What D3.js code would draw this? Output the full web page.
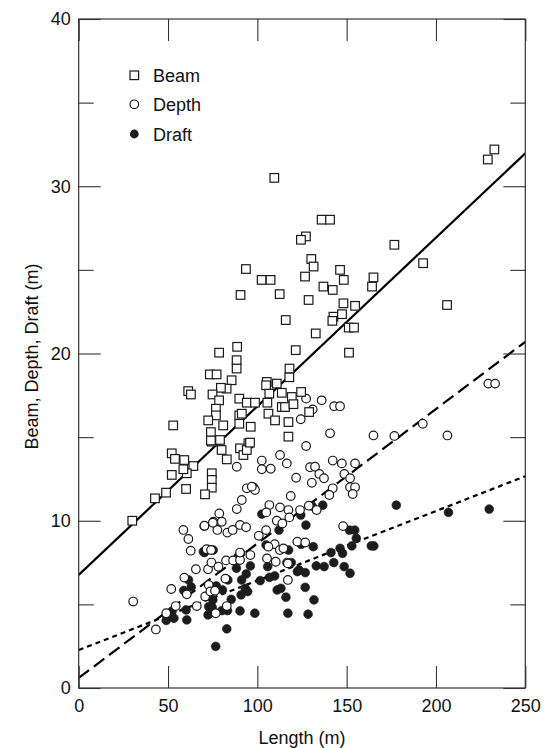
<!DOCTYPE html>
<html>
<head>
<meta charset="utf-8">
<script src="https://cdn.jsdelivr.net/npm/d3@7"></script>
<style>
  html, body { margin: 0; padding: 0; background: #fff; }
  svg text { font-family: "Liberation Sans", Arial, Helvetica, sans-serif; fill: #111; }
</style>
</head>
<body>
<svg id="chart" width="545" height="748"></svg>
<script>
// ---- Data ----
const seriesNames = ["Beam", "Depth", "Draft"];

const beamLength = [30,42.7,48.9,52.1,53.9,59.1,64.2,60.5,58.6,52.1,60.1,74.5,74.5,74.5,70.7,80,82.9,74.5,79.1,90.3,92.2,95,94.1,
  78.6,88.4,88.4,73.4,77.2,85.6,82.8,79.6,61.3,62.8,74.9,78.6,89.9,76.8,76.8,72.5,80.9,52.9,89.9,89.9,74,74,
  109.5,136,140.7,127.2,124.4,130.2,131.5,126.7,93.6,102.4,107.4,90.6,112.5,128.7,146.3,148.4,137,142.2,165,164.2,148.2,154.7,142.6,147.4,142,151.2,154.1,115.9,132.7,121.5,151.3,88.7,
  229,232.7,176.7,192.8,206.2,
  117.9,118,105.3,104.9,110.9,106.7,113.7,119.3,124.5,94.1,98.7,105.6,113.7,115.5,120.2,106.2,109.9,117.4,129,96.3,117.4,91.3,95.9];
const beamValue = [10,11.34,11.68,14.03,13.7,13.63,13.27,12.84,13.08,12.74,11.9,12.84,12.44,11.98,11.58,14.23,13.67,14.73,14.83,14.33,13.93,14.63,14.23,
  20.05,19.6,19.1,18.75,18.75,18.4,17.9,17.95,17.75,17.55,17.55,17.2,17.3,16.7,16.3,16.0,15.7,15.7,16.3,15.8,15.3,14.8,
  30.5,28.0,28.0,27.0,26.8,25.65,25.2,24.6,25.05,24.4,24.4,23.5,23.55,23.2,25.0,24.4,24.0,23.8,24.55,24.0,23.0,22.85,22.2,22.35,21.95,21.55,21.55,22.0,21.2,20.2,20.05,20.4,
  31.6,32.2,26.5,25.4,22.9,
  18.58,19.1,18.3,18.1,18.2,17.6,17.65,17.4,17.7,17.06,17.06,17.06,16.8,16.8,16.97,16.4,16.0,15.9,16.5,15.62,15.03,16.4,14.67];

const depthLength = [229.3,233.1,192.6,165,176.7,206.4,
  127.3,136,143,146.3,131,124.3,140.7,127.3,112.7,116.5,102.5,102.5,107.5,129.5,132.3,134.7,137.3,121.7,130.5,142.2,147.3,154.7,148.7,151.9,142.2,140.3,151.9,154.7,153.4,94.1,97.8,91.3,118.7,106.7,112.7,117.4,123.9,133.2,
  88.5,98.7,88.5,78.7,75.4,80.1,77.6,70.3,83.2,86.2,90.3,93.7,58.6,61.4,62.7,
  30.5,43.2,49,51.8,54.3,59.1,65.6,66.1,60.5,72.4,74.3,82.5,86.4,78.2,90.3,96.1,90.3,71.6,74.1,72.8,70.8,73.7,76.3,82.1,82.9,76.7,
  100.8,105,117.9,110.9,114,104.9,109.7,106.2,112.6,114.6,122.4,126.8,105.4,110.3,117.1,117.1,128.8,148,70.4,75.1,96.9];
const depthValue = [18.2,18.2,15.8,15.1,15.07,15.1,
  17.3,17.2,16.85,16.85,16.66,16.07,15.23,14.47,13.93,13.43,13.6,13.08,13.11,13.2,13.23,12.8,12.54,12.57,12.27,13.6,13.43,13.43,12.8,12.54,11.94,11.54,12.0,12.0,11.6,11.94,12.0,11.24,11.48,10.94,10.8,10.64,10.64,10.64,
  13.23,11.84,10.7,10.44,9.94,9.94,9.45,9.69,9.29,9.45,9.75,9.61,9.45,8.91,8.21,
  5.17,3.5,4.47,5.92,4.9,6.6,7.1,4.9,5.6,7.1,7.5,7.63,7.63,7.25,7.65,7.95,8.1,8.3,8.25,6.16,5.47,5.77,5.82,6.54,4.9,4.47,
  9.1,10.5,10.2,10.0,9.84,9.44,8.6,8.45,8.25,8.35,8.75,8.7,7.75,7.55,7.45,6.46,10.9,9.68,9.7,9.88,12.04];

const draftLength = [49,53.3,52.3,60.5,60.1,58.8,61.5,63,
  70.4,75.3,72.8,72.4,75.1,74.7,77,80.5,83.5,85.4,83.3,80.2,76.7,82.9,90.3,98.6,
  88.3,91.2,90.9,93.2,94.6,93.8,96.1,89.3,90.7,
  101.6,104.9,105.8,106.8,109.7,111.1,113.2,116,117.1,
  102.5,112.1,117.5,119,116.5,
  122.4,123.3,126.8,124.3,127.2,130.7,136.6,
  126.8,131.7,128.4,131.3,124.5,133,137.4,
  141.2,142.8,146.3,147.7,148.6,151.9,
  151.6,154.5,155.4,152.9,163.8,165.2,177.8,207,229.8,69.8];
const draftValue = [4.04,4.17,4.6,4.07,4.67,5.83,6.46,6.04,
  8.1,8.25,4.87,4.37,5.27,4.83,6.1,5.86,6.46,5.3,4.63,4.63,2.49,3.54,4.61,4.47,
  7.16,6.46,5.57,5.96,5.77,6.82,7.3,7.85,8.05,
  6.42,8.55,7.26,6.62,6.7,5.86,5.96,5.43,4.47,
  10.4,9.44,8.25,7.5,7.5,
  6.96,7.06,6.9,10.34,9.74,10.87,10.93,
  6.02,5.27,4.41,8.45,8.59,7.3,7.26,
  8.1,7.5,8.35,8.05,7.26,6.86,
  9.44,9.44,8.95,8.5,8.5,8.49,10.93,10.5,10.7,8.15];

// regression lines: value at length 0 and at length 250
const fitStart = [6.76, 0.6, 2.27];
const fitEnd = [31.97, 20.7, 12.66];

const xTicks = [0, 50, 100, 150, 200, 250];
const yTicks = [0, 10, 20, 30, 40];
const yMinorTicks = [5, 15, 25, 35];
const xDomain = [0, 250];
const yDomain = [0, 40];

// ---- Layout ----
const svg = d3.select("#chart");
const pL = 78.7, pR = 525.3, pT = 19, pB = 688;
const x = d3.scaleLinear().domain(xDomain).range([pL, pR]);
const y = d3.scaleLinear().domain(yDomain).range([pB, pT]);
const ink = "#1a1a1a";
const fs = 18;

svg.append("defs").append("clipPath").attr("id", "plotclip")
  .append("rect").attr("x", pL).attr("y", pT).attr("width", pR - pL).attr("height", pB - pT);

const dashes = [null, "13,6", "5,4"];
const plot = svg.append("g").attr("clip-path", "url(#plotclip)");
seriesNames.forEach((name, i) => {
  plot.append("line")
    .attr("x1", x(xDomain[0])).attr("y1", y(fitStart[i]))
    .attr("x2", x(xDomain[1])).attr("y2", y(fitEnd[i]))
    .attr("stroke", "#000").attr("stroke-width", 2.2)
    .attr("stroke-dasharray", dashes[i]);
});

const draft = draftLength.map((v, i) => [v, draftValue[i]]);
const depth = depthLength.map((v, i) => [v, depthValue[i]]);
const beam = beamLength.map((v, i) => [v, beamValue[i]]);

plot.append("g").selectAll("circle").data(draft).join("circle")
  .attr("cx", d => x(d[0])).attr("cy", d => y(d[1])).attr("r", 4.4)
  .attr("fill", "#1c1c1c").attr("stroke", "#1c1c1c").attr("stroke-width", 0.6);

plot.append("g").selectAll("circle").data(depth).join("circle")
  .attr("cx", d => x(d[0])).attr("cy", d => y(d[1])).attr("r", 4.3)
  .attr("fill", "#fff").attr("stroke", ink).attr("stroke-width", 1.2);

const sq = 8.6;
plot.append("g").selectAll("rect").data(beam).join("rect")
  .attr("x", d => x(d[0]) - sq / 2).attr("y", d => y(d[1]) - sq / 2)
  .attr("width", sq).attr("height", sq)
  .attr("fill", "#fff").attr("stroke", ink).attr("stroke-width", 1.2);

function styleAxis(g) {
  g.select(".domain").remove();
  g.selectAll(".tick line").attr("stroke", "#333").attr("stroke-width", 1.1);
  g.selectAll(".tick text").attr("font-size", fs).attr("fill", "#111")
    .attr("font-family", '"Liberation Sans", Arial, sans-serif');
}
svg.append("g").attr("transform", `translate(0,${pB})`)
  .call(d3.axisBottom(x).tickValues(xTicks).tickSize(-22).tickPadding(11).tickFormat(d3.format("d")))
  .call(styleAxis);
svg.append("g").attr("transform", `translate(0,${pT})`)
  .call(d3.axisTop(x).tickValues(xTicks).tickSize(-22).tickFormat(""))
  .call(styleAxis);
svg.append("g").attr("transform", `translate(${pL},0)`)
  .call(d3.axisLeft(y).tickValues(yTicks).tickSize(-22).tickPadding(8).tickFormat(d3.format("d")))
  .call(styleAxis);
svg.append("g").attr("transform", `translate(${pL},0)`)
  .call(d3.axisLeft(y).tickValues(yMinorTicks).tickSize(-15).tickFormat(""))
  .call(styleAxis);
svg.append("g").attr("transform", `translate(${pR},0)`)
  .call(d3.axisRight(y).tickValues(yTicks).tickSize(-22).tickFormat(""))
  .call(styleAxis);
svg.append("g").attr("transform", `translate(${pR},0)`)
  .call(d3.axisRight(y).tickValues(yMinorTicks).tickSize(-15).tickFormat(""))
  .call(styleAxis);

svg.append("rect").attr("x", pL).attr("y", pT).attr("width", pR - pL).attr("height", pB - pT)
  .attr("fill", "none").attr("stroke", "#333").attr("stroke-width", 1.2);

svg.append("text").attr("x", (pL + pR) / 2).attr("y", 743.5)
  .attr("text-anchor", "middle").attr("font-size", fs).text("Length (m)");
svg.append("text").attr("transform", "translate(37.5,356.5) rotate(-90)")
  .attr("text-anchor", "middle").attr("font-size", fs).text("Beam, Depth, Draft (m)");

const legY = [75.3, 104.3, 134];
const legX = 134.3;
const leg = svg.append("g");
seriesNames.forEach((name, i) => {
  if (i === 0) {
    leg.append("rect").attr("x", legX - sq / 2).attr("y", legY[i] - sq / 2).attr("width", sq).attr("height", sq)
      .attr("fill", "#fff").attr("stroke", ink).attr("stroke-width", 1.2);
  } else if (i === 1) {
    leg.append("circle").attr("cx", legX).attr("cy", legY[i]).attr("r", 4.3)
      .attr("fill", "#fff").attr("stroke", ink).attr("stroke-width", 1.2);
  } else {
    leg.append("circle").attr("cx", legX).attr("cy", legY[i]).attr("r", 4.4)
      .attr("fill", "#1c1c1c");
  }
  leg.append("text").attr("x", 153).attr("y", legY[i] + 6.6).attr("font-size", fs).text(name);
});
</script>
</body>
</html>
